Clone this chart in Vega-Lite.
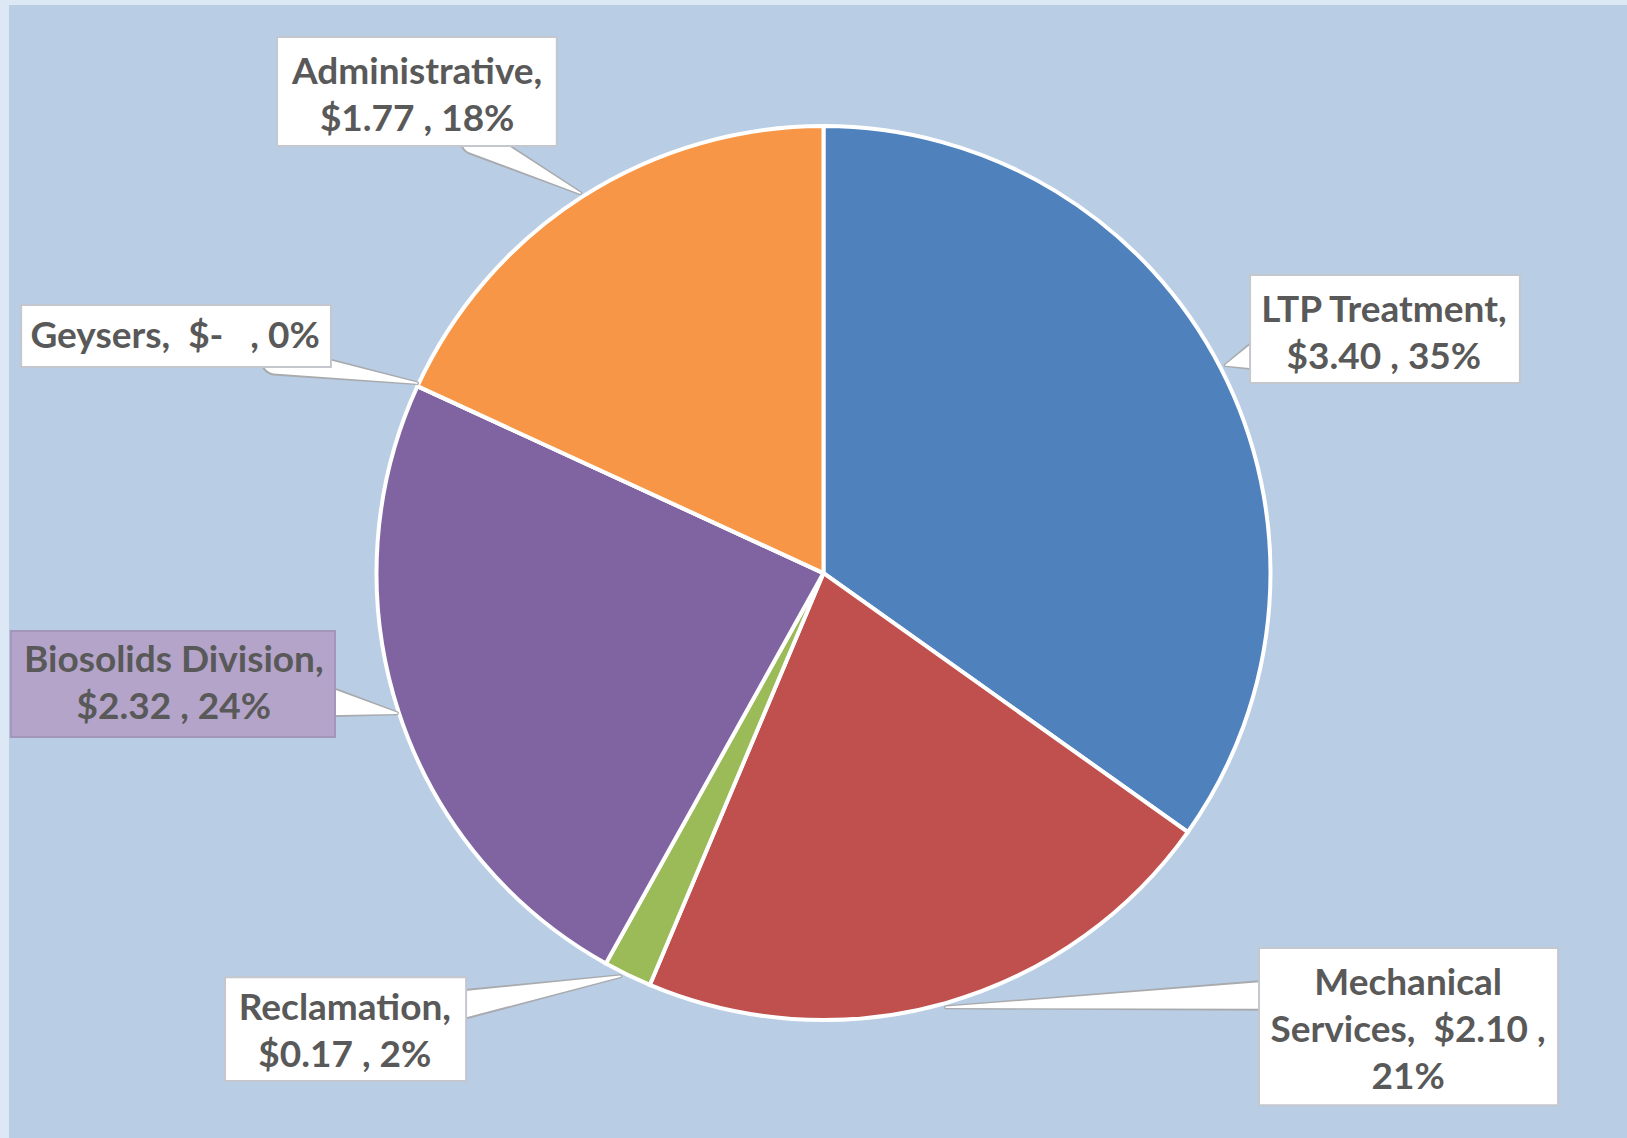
{
  "$schema": "https://vega.github.io/schema/vega-lite/v6.json",
  "autosize": {"type": "fit", "contains": "padding"},
  "width": 1627,
  "height": 1138,
  "padding": {"left": 9, "top": 5, "right": 0, "bottom": 0},
  "background": "#dce8f4",
  "config": {"view": {"stroke": null, "fill": "#b9cde5"}},
  "datasets": {
    "slices": [
      {"category": "LTP Treatment", "value": 3.40, "rank": 1},
      {"category": "Mechanical Services", "value": 2.10, "rank": 2},
      {"category": "Reclamation", "value": 0.17, "rank": 3},
      {"category": "Biosolids Division", "value": 2.32, "rank": 4},
      {"category": "Geysers", "value": 0, "rank": 5},
      {"category": "Administrative", "value": 1.77, "rank": 6}
    ],
    "labels": [
      {"category": "Administrative", "label": "Administrative,\n$1.77 , 18%", "x1": -121.7, "x2": -59.4, "y1": 119.4, "y2": 95.1, "tx": -90.5, "ty": 111.4},
      {"category": "Geysers", "label": "Geysers,\u00a0 $-\u00a0\u00a0 , 0%", "x1": -178.7, "x2": -109.7, "y1": 59.7, "y2": 45.9, "tx": -144.4, "ty": 52.6},
      {"category": "LTP Treatment", "label": "LTP Treatment,\n$3.40 , 35%", "x1": 95.0, "x2": 155.1, "y1": 66.4, "y2": 42.3, "tx": 124.8, "ty": 58.4},
      {"category": "Biosolids Division", "label": "Biosolids Division,\n$2.32 , 24%", "x1": -181.0, "x2": -108.8, "y1": -12.9, "y2": -36.5, "tx": -144.7, "ty": -19.6},
      {"category": "Reclamation", "label": "Reclamation,\n$0.17 , 2%", "x1": -133.3, "x2": -79.6, "y1": -90.0, "y2": -113.1, "tx": -106.6, "ty": -97.1},
      {"category": "Mechanical Services", "label": "Mechanical\nServices,\u00a0 $2.10 ,\n21%", "x1": 97.0, "x2": 163.6, "y1": -83.5, "y2": -118.5, "tx": 130.2, "ty": -91.5}
    ],
    "pointers": [
      {"category": "Administrative", "end": "base", "px": -77.6, "py": 96.4},
      {"category": "Administrative", "end": "tip", "px": -54.2, "py": 84.6},
      {"category": "Geysers", "end": "base", "px": -122.0, "py": 47.4},
      {"category": "Geysers", "end": "tip", "px": -90.5, "py": 42.3},
      {"category": "LTP Treatment", "end": "base", "px": 96.3, "py": 48.3},
      {"category": "LTP Treatment", "end": "tip", "px": 89.6, "py": 46.3},
      {"category": "Biosolids Division", "end": "base", "px": -109.9, "py": -28.7},
      {"category": "Biosolids Division", "end": "tip", "px": -95.0, "py": -31.2},
      {"category": "Reclamation", "end": "base", "px": -81.0, "py": -96.2},
      {"category": "Reclamation", "end": "tip", "px": -45.3, "py": -89.8},
      {"category": "Mechanical Services", "end": "base", "px": 98.6, "py": -94.0},
      {"category": "Mechanical Services", "end": "tip", "px": 27.3, "py": -96.7}
    ]
  },
  "resolve": {"scale": {"size": "independent"}},
  "layer": [
    {
      "data": {"name": "slices"},
      "mark": {"type": "arc", "outerRadius": 447, "stroke": "white", "strokeWidth": 4},
      "encoding": {
        "x": {"datum": 0, "type": "quantitative", "scale": {"domain": [-181.4, 178.95], "nice": false, "zero": false}, "axis": null},
        "y": {"datum": 0, "type": "quantitative", "scale": {"domain": [-125.8, 126.5], "nice": false, "zero": false}, "axis": null},
        "theta": {"field": "value", "type": "quantitative", "stack": true},
        "order": {"field": "rank", "type": "quantitative"},
        "color": {
          "field": "category", "type": "nominal", "legend": null,
          "scale": {
            "domain": ["LTP Treatment", "Mechanical Services", "Reclamation", "Biosolids Division", "Geysers", "Administrative"],
            "range": ["#4f81bd", "#c0504d", "#9bbb59", "#8064a2", "#4bacc6", "#f79646"]
          }
        }
      }
    },
    {
      "data": {"name": "pointers"},
      "mark": {"type": "trail", "color": "#a6a6a6", "opacity": 0.9},
      "encoding": {
        "x": {"field": "px", "type": "quantitative"},
        "y": {"field": "py", "type": "quantitative"},
        "detail": {"field": "category", "type": "nominal"},
        "size": {"field": "end", "type": "ordinal", "legend": null, "scale": {"domain": ["base", "tip"], "range": [31, 4]}}
      }
    },
    {
      "data": {"name": "pointers"},
      "mark": {"type": "trail", "color": "white"},
      "encoding": {
        "x": {"field": "px", "type": "quantitative"},
        "y": {"field": "py", "type": "quantitative"},
        "detail": {"field": "category", "type": "nominal"},
        "size": {"field": "end", "type": "ordinal", "legend": null, "scale": {"domain": ["base", "tip"], "range": [27, 1.5]}}
      }
    },
    {
      "data": {"name": "labels"},
      "mark": {"type": "rect", "strokeWidth": 2},
      "encoding": {
        "x": {"field": "x1", "type": "quantitative"},
        "x2": {"field": "x2"},
        "y": {"field": "y1", "type": "quantitative"},
        "y2": {"field": "y2"},
        "fill": {"condition": {"test": "datum.category === 'Biosolids Division'", "value": "#b4a4c9"}, "value": "#ffffff"},
        "stroke": {"condition": {"test": "datum.category === 'Biosolids Division'", "value": "#a495bb"}, "value": "#c4c8ce"}
      }
    },
    {
      "data": {"name": "labels"},
      "mark": {"type": "text", "font": "Lato", "fontSize": 37, "fontWeight": "bold", "fill": "#595959", "lineBreak": "\n", "lineHeight": 47, "align": "center", "baseline": "middle"},
      "encoding": {
        "x": {"field": "tx", "type": "quantitative"},
        "y": {"field": "ty", "type": "quantitative"},
        "text": {"field": "label", "type": "nominal"}
      }
    }
  ]
}
